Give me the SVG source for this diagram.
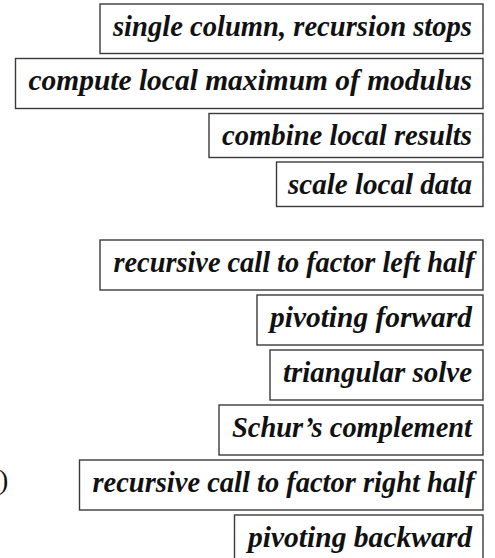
<svg xmlns="http://www.w3.org/2000/svg" width="495" height="558" viewBox="0 0 495 558">
<style>
.box rect{fill:#fff;stroke:#3a3a3a;stroke-width:1.4}
.box text{font-family:"Liberation Serif",serif;font-style:italic;font-weight:bold;font-size:29px;fill:#111;text-anchor:end}
.paren{font-family:"Liberation Serif",serif;font-size:28px;fill:#111}
</style>
<rect width="495" height="558" fill="#fff"/>
<g id="connectors"></g>
<text class="paren" x="-1" y="489">)</text>
<g id="n1" class="box"><rect x="100" y="4" width="383" height="49.5"/><text x="472" y="35.7" textLength="359" lengthAdjust="spacingAndGlyphs">single column, recursion stops</text></g>
<g id="n2" class="box"><rect x="15.5" y="58.5" width="467.5" height="50"/><text x="472" y="90" textLength="443.5" lengthAdjust="spacingAndGlyphs">compute local maximum of modulus</text></g>
<g id="n3" class="box"><rect x="209" y="113.5" width="274" height="44"/><text x="472" y="145" textLength="250" lengthAdjust="spacingAndGlyphs">combine local results</text></g>
<g id="n4" class="box"><rect x="276.5" y="162" width="206.5" height="44.5"/><text x="472" y="193.5" textLength="184" lengthAdjust="spacingAndGlyphs">scale local data</text></g>
<g id="n5" class="box"><rect x="100" y="240" width="383" height="50"/><text x="474.5" y="271.7" textLength="361" lengthAdjust="spacingAndGlyphs">recursive call to factor left half</text></g>
<g id="n6" class="box"><rect x="257" y="295" width="226" height="50"/><text x="472" y="326.7" textLength="202" lengthAdjust="spacingAndGlyphs">pivoting forward</text></g>
<g id="n7" class="box"><rect x="270" y="350" width="213" height="50"/><text x="472" y="381.7" textLength="189" lengthAdjust="spacingAndGlyphs">triangular solve</text></g>
<g id="n8" class="box"><rect x="219" y="405" width="264" height="50"/><text x="472" y="436.7" textLength="240" lengthAdjust="spacingAndGlyphs">Schur’s complement</text></g>
<g id="n9" class="box"><rect x="79.5" y="460" width="403.5" height="50"/><text x="474.5" y="491.7" textLength="382" lengthAdjust="spacingAndGlyphs">recursive call to factor right half</text></g>
<g id="n10" class="box"><rect x="234.5" y="515" width="248.5" height="50"/><text x="472" y="546.7" textLength="224" lengthAdjust="spacingAndGlyphs">pivoting backward</text></g>
</svg>
